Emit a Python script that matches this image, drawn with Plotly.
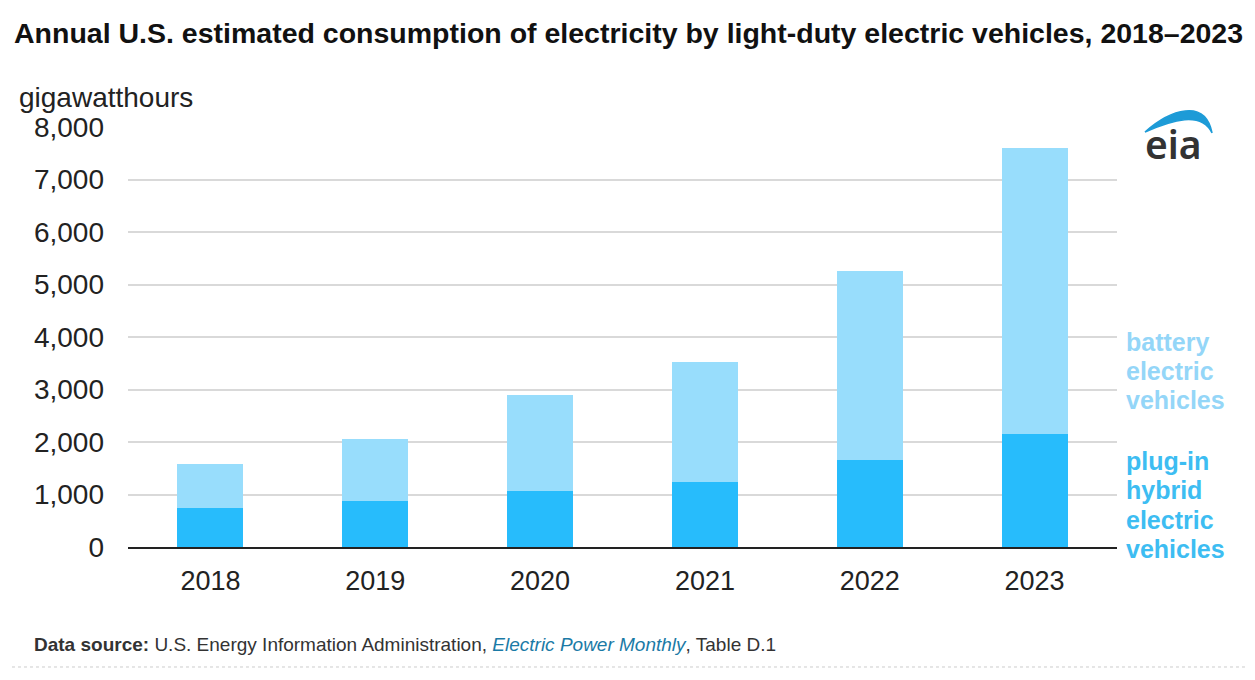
import plotly.graph_objects as go

# Annual consumption, gigawatthours
years = ['2018', '2019', '2020', '2021', '2022', '2023']
phev = [745, 875, 1065, 1240, 1655, 2150]
bev = [835, 1180, 1830, 2285, 3600, 5450]
y_ticks = [0, 1000, 2000, 3000, 4000, 5000, 6000, 7000, 8000]
y_labels = ['0', '1,000', '2,000', '3,000', '4,000', '5,000', '6,000', '7,000', '8,000']
bev_label = ['battery', 'electric', 'vehicles']
phev_label = ['plug-in', 'hybrid', 'electric', 'vehicles']

light_blue = '#98DDFC'
dark_blue = '#27BCFC'

fig = go.Figure()
fig.add_trace(go.Bar(x=years, y=phev, name='plug-in hybrid electric vehicles',
                     marker=dict(color=dark_blue, line=dict(width=0)), width=0.4))
fig.add_trace(go.Bar(x=years, y=bev, name='battery electric vehicles',
                     marker=dict(color=light_blue, line=dict(width=0)), width=0.4))

# page has an 8px body margin, so margins are shifted to compensate
fig.update_layout(
    barmode='stack',
    width=1255, height=680,
    margin=dict(l=120, r=146, t=119, b=141),
    plot_bgcolor='white', paper_bgcolor='white',
    showlegend=False,
    font=dict(family='Liberation Sans, Arial, sans-serif', color='#222222'),
    xaxis=dict(tickfont=dict(size=27, color='#222222'), ticks='', showgrid=False,
               showline=True, linecolor='#222222', linewidth=2, ticklabelstandoff=9),
    yaxis=dict(range=[0, 8000], tickvals=y_ticks, ticktext=y_labels,
               tickfont=dict(size=28, color='#222222'), ticks='',
               showgrid=True, gridcolor='#d9d9d9', gridwidth=2,
               zeroline=False, ticklabelstandoff=23),
)

# Title and axis unit
fig.add_annotation(text='<b>Annual U.S. estimated consumption of electricity by light-duty electric vehicles, 2018\u20132023</b>',
                   xref='paper', yref='paper', x=-0.1173, y=1.224, xanchor='left', yanchor='middle',
                   showarrow=False, font=dict(size=28.5, color='#111111'))
fig.add_annotation(text='gigawatthours', xref='paper', yref='paper', x=-0.1122, y=1.0714,
                   xanchor='left', yanchor='middle', showarrow=False,
                   font=dict(size=28, color='#222222'))

# Direct labels for series, one annotation per line for tight spacing
for i, word in enumerate(bev_label):
    fig.add_annotation(text='<b>' + word + '</b>', xref='paper', yref='paper',
                       x=1.0071, y=(547 - 342 - i * 29) / 420, xanchor='left', yanchor='middle',
                       showarrow=False, font=dict(size=25, color='#94d6f8'))
for i, word in enumerate(phev_label):
    fig.add_annotation(text='<b>' + word + '</b>', xref='paper', yref='paper',
                       x=1.0071, y=(547 - 461 - i * 29.3) / 420, xanchor='left', yanchor='middle',
                       showarrow=False, font=dict(size=25, color='#3dbdf2'))

# eia logo
fig.add_annotation(text='eia', xref='paper', yref='paper', x=1.0576, y=0.96,
                   xanchor='center', yanchor='middle', showarrow=False,
                   font=dict(size=39, color='#333333', weight=600,
                             family='Noto Sans, Arial, sans-serif'))
fig.add_shape(type='path', xref='paper', yref='paper',
              path='M 1.0283,0.988 C 1.0536,1.0407 1.0890,1.0693 1.0961,0.9857 '
                   'C 1.0850,1.0385 1.0556,1.016 1.0283,0.988 Z',
              fillcolor='#1d9bd7', line=dict(color='#1d9bd7', width=1.5))

# Source note
fig.add_annotation(text='<b>Data source:</b> U.S. Energy Information Administration, '
                        '<i><span style="color:#1a7aa6">Electric Power Monthly</span></i>, Table D.1',
                   xref='paper', yref='paper', x=-0.0971, y=-0.231, xanchor='left', yanchor='middle',
                   showarrow=False, font=dict(size=19, color='#333333'))
fig.add_shape(type='line', xref='paper', yref='paper', x0=-0.1173, x1=1.1395, y0=-0.2857, y1=-0.2857,
              line=dict(color='#cccccc', width=1, dash='dot'))

fig.write_html('out.html')
